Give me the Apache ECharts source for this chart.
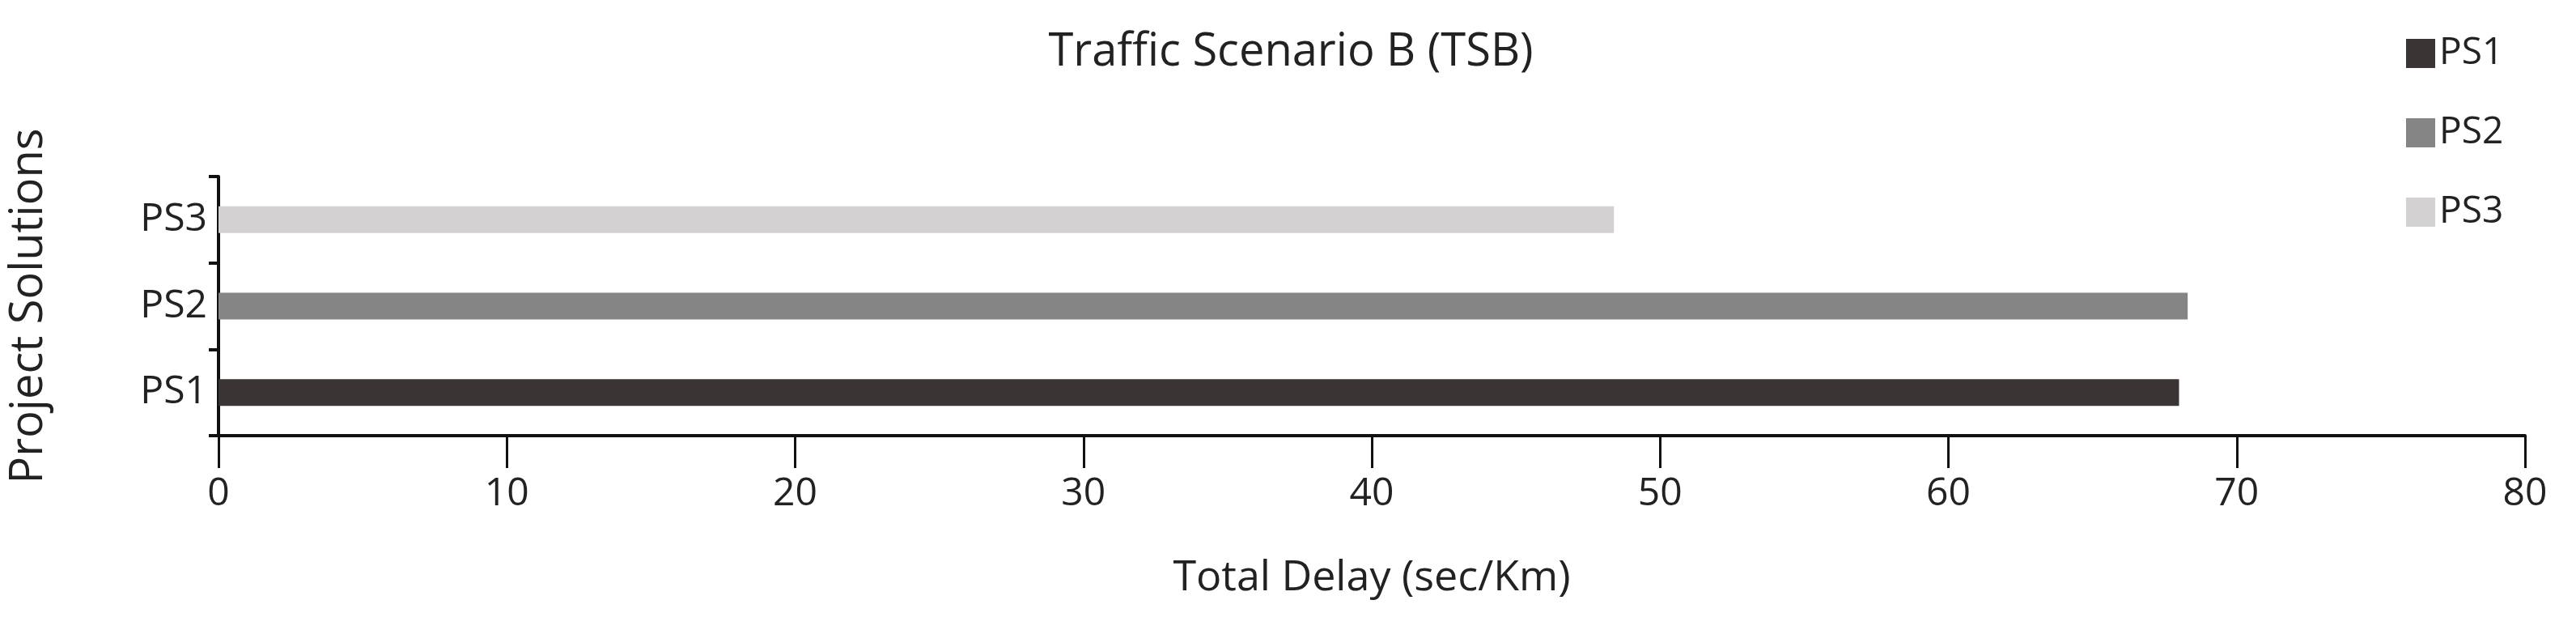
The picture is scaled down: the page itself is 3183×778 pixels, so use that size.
<!DOCTYPE html>
<html>
<head>
<meta charset="utf-8">
<script src="https://cdn.jsdelivr.net/npm/echarts@6/dist/echarts.min.js"></script>
<style>html,body{margin:0;padding:0;background:#fff}#main{width:3183px;height:778px}</style>
</head>
<body>
<div id="main"></div>
<script>
var chartDom = document.getElementById('main');
var myChart = echarts.init(chartDom);
var option;

// categories on the y axis (bottom to top)
var solutions = ['PS1', 'PS2', 'PS3'];
// total delay, sec/Km
var delays = [68.0, 68.3, 48.4];
var colors = ['#3a3534', '#858585', '#d3d1d1'];
var xTicks = { min: 0, max: 80, interval: 10 };

var font = 'Open Sans';

// one series per solution so the legend shows each
var series = solutions.map(function (name, i) {
    return {
        name: name,
        type: 'bar',
        stack: 'all',
        barWidth: '31%',
        itemStyle: { color: colors[i] },
        data: solutions.map(function (s, j) {
            return j === i ? delays[i] : null;
        })
    };
});

option = {
    textStyle: { fontFamily: font },
    title: {
        text: 'Traffic Scenario B (TSB)',
        left: 1590,
        top: 32,
        textAlign: 'center',
        textStyle: { fontFamily: font, fontSize: 56, fontWeight: 'normal', color: '#222' }
    },
    legend: {
        data: solutions,
        orient: 'vertical',
        left: 2968,
        top: 38,
        itemGap: 52,
        itemWidth: 36,
        itemHeight: 36,
        icon: 'rect',
        textStyle: { fontFamily: font, fontSize: 46, color: '#222' }
    },
    grid: { left: 266, right: 63, top: 218, height: 320 },
    xAxis: {
        type: 'value',
        min: xTicks.min,
        max: xTicks.max,
        interval: xTicks.interval,
        name: 'Total Delay (sec/Km)',
        nameLocation: 'middle',
        nameGap: 150,
        nameTextStyle: { fontFamily: font, fontSize: 52, color: '#222' },
        axisLine: { show: true, lineStyle: { color: '#111', width: 4 } },
        axisTick: { show: true, length: 40, lineStyle: { color: '#111', width: 3 } },
        axisLabel: { fontFamily: font, fontSize: 48, color: '#222', margin: 48 },
        splitLine: { show: false }
    },
    yAxis: {
        type: 'category',
        data: solutions,
        name: 'Project Solutions',
        nameLocation: 'middle',
        nameGap: 206,
        nameTextStyle: { fontFamily: font, fontSize: 56, color: '#222' },
        axisLine: { show: true, lineStyle: { color: '#111', width: 4 } },
        axisTick: { show: true, length: 12, lineStyle: { color: '#111', width: 4 } },
        axisLabel: { fontFamily: font, fontSize: 48, color: '#222', margin: 14 }
    },
    series: series
};

option && myChart.setOption(option);
</script>
</body>
</html>
